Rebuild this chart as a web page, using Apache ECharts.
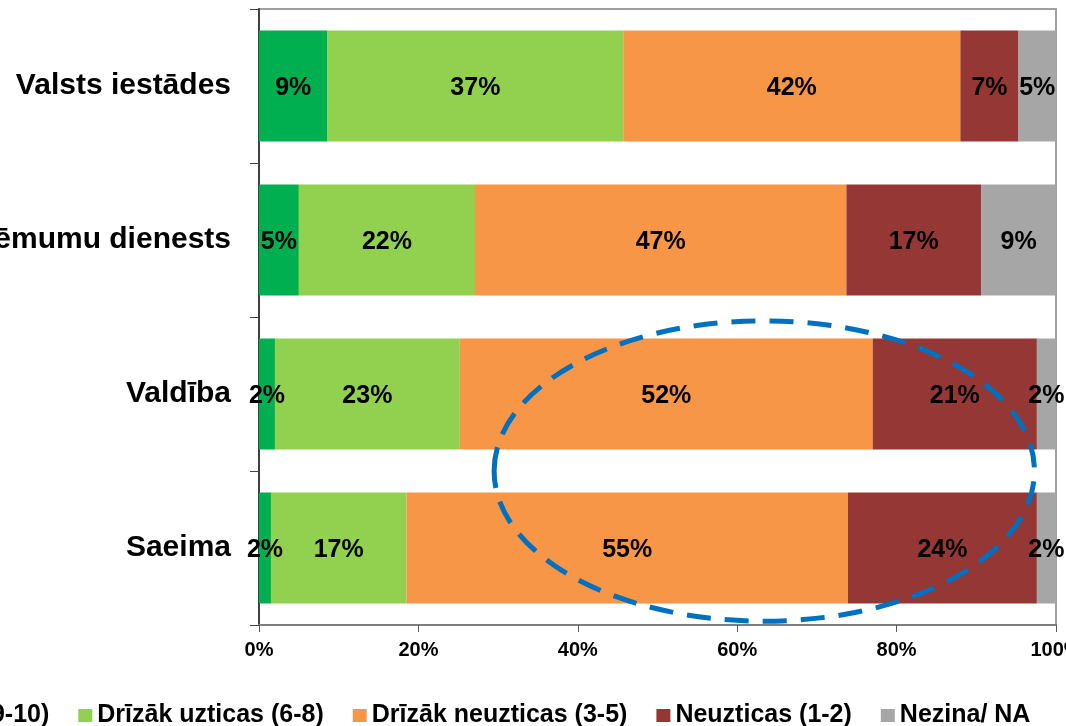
<!DOCTYPE html>
<html>
<head>
<meta charset="utf-8">
<script src="https://cdn.jsdelivr.net/npm/echarts@6/dist/echarts.min.js"></script>
<style>
html,body{margin:0;padding:0;background:#fff;overflow:hidden;}
#chart{width:1066px;height:726px;}
</style>
</head>
<body>
<div id="chart"></div>
<script>
// ---- data ----
var categories = ['Valsts iestādes', 'Valsts ieņēmumu dienests', 'Valdība', 'Saeima'];
var seriesNames = ['Pilnībā uzticas (9-10)', 'Drīzāk uzticas (6-8)', 'Drīzāk neuzticas (3-5)', 'Neuzticas (1-2)', 'Nezina/ NA'];
var fullyTrust   = [8.6, 5.0, 2.0, 1.5];
var ratherTrust  = [37.1, 22.1, 23.2, 17.0];
var ratherNot    = [42.3, 46.6, 51.8, 55.4];
var notTrust     = [7.3, 16.9, 20.6, 23.7];
var dontKnow     = [4.7, 9.4, 2.4, 2.4];
var xTicks = [0, 20, 40, 60, 80, 100];
// annotation ellipse (in axis units)
var ellipseCenterValue = 63.4;
var ellipseHalfWidthValue = 33.9;
var ellipseBandsBetween = ['Valdība', 'Saeima'];
var ellipseVerticalFactor = 0.975;

var colors = ['#00B050', '#92D050', '#F79646', '#953735', '#A6A6A6'];
var values = [fullyTrust, ratherTrust, ratherNot, notTrust, dontKnow];
var FONT = '"Liberation Sans", Arial, Helvetica, sans-serif';

var chart = echarts.init(document.getElementById('chart'), null, {renderer: 'canvas'});

var series = seriesNames.map(function (name, i) {
  return {
    name: name,
    type: 'bar',
    stack: 'total',
    barCategoryGap: '28%',
    itemStyle: {color: colors[i]},
    label: {
      show: true,
      position: 'inside',
      offset: [0, 2],
      color: '#000',
      fontFamily: FONT,
      fontWeight: 'bold',
      fontSize: 25,
      formatter: function (p) { return Math.round(p.value) + '%'; }
    },
    emphasis: {disabled: true},
    data: values[i]
  };
});

chart.setOption({
  animation: false,
  backgroundColor: '#fff',
  textStyle: {fontFamily: FONT},
  grid: {
    left: 259, right: 10, top: 9, bottom: 101,
    containLabel: false,
    outerBoundsMode: 'none',
    show: true, borderColor: '#A0A0A0', borderWidth: 2, backgroundColor: 'transparent'
  },
  legend: {
    left: -217,
    top: 703,
    padding: 0,
    itemGap: 29,
    itemWidth: 14,
    itemHeight: 13,
    icon: 'rect',
    textStyle: {fontFamily: FONT, fontWeight: 'bold', fontSize: 25, color: '#000'},
    data: seriesNames
  },
  xAxis: {
    type: 'value',
    min: xTicks[0],
    max: xTicks[xTicks.length - 1],
    interval: xTicks[1] - xTicks[0],
    axisLine: {show: true, lineStyle: {color: '#7F7F7F', width: 2}},
    axisTick: {show: true, length: 7, lineStyle: {color: '#595959', width: 1}},
    splitLine: {show: false},
    axisLabel: {
      margin: 15,
      color: '#000',
      fontFamily: FONT,
      fontWeight: 'bold',
      fontSize: 20,
      formatter: function (v) { return v + '%'; }
    }
  },
  yAxis: {
    type: 'category',
    inverse: true,
    data: categories,
    axisLine: {show: true, lineStyle: {color: '#404040', width: 2}},
    axisTick: {show: true, length: 9, lineStyle: {color: '#404040', width: 1}},
    axisLabel: {
      margin: 28,
      padding: [10, 0, 0, 0],
      color: '#000',
      fontFamily: FONT,
      fontWeight: 'bold',
      fontSize: 30
    }
  },
  series: series
});

// dashed ellipse annotation placed through the axes
var yA = chart.convertToPixel({gridIndex: 0}, [ellipseCenterValue, ellipseBandsBetween[0]]);
var yB = chart.convertToPixel({gridIndex: 0}, [ellipseCenterValue, ellipseBandsBetween[1]]);
var xR = chart.convertToPixel({gridIndex: 0}, [ellipseCenterValue + ellipseHalfWidthValue, ellipseBandsBetween[0]]);
var cx = yA[0];
var cy = (yA[1] + yB[1]) / 2;
var rx = xR[0] - yA[0];
var ry = Math.abs(yB[1] - yA[1]) * ellipseVerticalFactor;

chart.setOption({
  graphic: [{
    type: 'ellipse',
    z: 100,
    silent: true,
    shape: {cx: cx, cy: cy, rx: rx, ry: ry},
    style: {fill: null, stroke: '#0070C0', lineWidth: 5, lineDash: [24, 14]}
  }]
});
</script>
</body>
</html>
